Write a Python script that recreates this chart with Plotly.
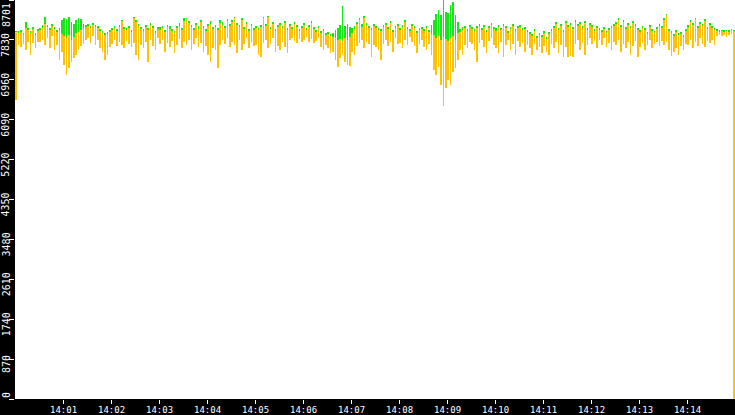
import pandas as pd
import plotly.graph_objects as go

# one bar every 3 s from 14:00 to 14:15
bar_times = pd.date_range("2024-05-20 14:00:01.5", periods=300, freq="3s")

yellow_high = [
    8000, 7980, 8000, 7960, 8090, 8040, 7980, 8070, 7940, 8020,
    8040, 8090, 8180, 8110, 8040, 8130, 8070, 8000, 8040, 7960,
    7910, 7870, 7940, 7830, 7890, 7980, 8000, 8040, 8090, 8110,
    8130, 8090, 8150, 8110, 8090, 8020, 7980, 7940, 7960, 8000,
    8040, 8090, 8020, 8110, 8240, 8070, 8040, 8090, 8000, 8310,
    8220, 8130, 8070, 8020, 8110, 8040, 8150, 8090, 7980, 8070,
    8040, 8090, 8000, 8110, 8070, 8020, 7980, 8090, 8130, 8040,
    8240, 8280, 8200, 8110, 8040, 8150, 8070, 8220, 8090, 8020,
    8130, 8180, 8070, 8110, 8040, 8200, 8150, 8090, 8240, 8130,
    8220, 8310, 8150, 8110, 8260, 8070, 8180, 8020, 8130, 8040,
    8090, 8040, 8110, 8310, 8130, 8330, 8070, 8180, 8020, 8110,
    8150, 8090, 8200, 8040, 8130, 8070, 8180, 8110, 8020, 8090,
    8150, 8040, 8110, 8200, 8070, 8000, 8090, 7980, 8020, 7940,
    7960, 7910, 7890, 7870, 7830, 7850, 7800, 7870, 7830, 7890,
    7980, 8070, 8180, 8260, 8110, 8310, 8150, 8090, 8040, 8130,
    8090, 8040, 8020, 8110, 8150, 8070, 8200, 8000, 8090, 8130,
    8040, 8110, 8220, 8070, 8020, 8130, 8090, 7980, 8040, 8070,
    8020, 8090, 8000, 7960, 7940, 7870, 7910, 7830, 7890, 7850,
    7800, 7870, 7910, 7830, 7980, 8000, 8040, 8090, 8020, 8110,
    8070, 8020, 8090, 8130, 8040, 8110, 8000, 8090, 8150, 8070,
    8020, 8110, 8040, 8130, 8090, 7980, 8070, 8130, 8020, 8090,
    8110, 8040, 8070, 8000, 7960, 7910, 8020, 7870, 7940, 7890,
    7980, 7850, 7960, 8020, 8090, 8180, 8040, 8130, 8000, 8200,
    8110, 8150, 8070, 8220, 8130, 8180, 8090, 8200, 8040, 8150,
    8110, 8020, 8090, 8040, 8000, 8070, 7980, 8040, 8090, 8130,
    8180, 8260, 8110, 8220, 8070, 8150, 8090, 8200, 8130, 8040,
    8000, 8090, 8040, 7960, 8110, 8020, 7980, 8070, 8130, 8090,
    8260, 8370, 8020, 7980, 7910, 8000, 7940, 7960, 7890, 8020,
    8110, 8220, 8150, 8280, 8090, 8180, 8130, 8240, 8070, 8150,
    8090, 8040, 8020, 8000, 8020, 8000, 8020, 8000, 8040, 8020,
]

yellow_low = [
    6520, 7720, 7670, 7740, 7610, 7780, 7500, 7760, 7650, 7780,
    7780, 7830, 7720, 7870, 7650, 7910, 7610, 7720, 7390, 7570,
    7280, 7060, 7220, 7350, 7430, 7500, 7610, 7700, 7740, 7830,
    7870, 7760, 7910, 7720, 7830, 7650, 7570, 7390, 7500, 7670,
    7740, 7830, 7700, 7780, 7720, 7650, 7800, 7740, 7670, 7760,
    7500, 7390, 7720, 7650, 7780, 7350, 7830, 7700, 7610, 7870,
    7740, 7830, 7570, 7760, 7670, 7800, 7540, 7720, 7850, 7650,
    7780, 7720, 7830, 7610, 7740, 7870, 7670, 7760, 7570, 7700,
    7500, 7350, 7650, 7610, 7220, 7720, 7830, 7740, 7870, 7670,
    7780, 7720, 7540, 7830, 7610, 7740, 7870, 7650, 7780, 7700,
    7720, 7500, 7460, 7760, 7830, 7650, 7740, 7870, 7570, 7700,
    7610, 7780, 7670, 7540, 7830, 7870, 7800, 7760, 7850, 7780,
    7830, 7890, 7780, 7850, 7760, 7800, 7870, 7670, 7610, 7720,
    7650, 7540, 7570, 7390, 7240, 7430, 7500, 7350, 7280, 7260,
    7570, 7500, 7700, 7760, 7830, 7650, 7780, 7740, 7460, 7720,
    7670, 7610, 7390, 7740, 7830, 7700, 7780, 7570, 7870, 7740,
    7760, 7650, 7830, 7720, 7890, 7780, 7700, 7540, 7740, 7830,
    7670, 7610, 7740, 7500, 7170, 7060, 7240, 6850, 6390, 6780,
    6950, 6850, 7130, 7220, 7390, 7610, 7500, 7720, 7650, 7780,
    7740, 7610, 7350, 7760, 7830, 7670, 7540, 7800, 7870, 7720,
    7650, 7540, 7780, 7460, 7720, 7830, 7610, 7740, 7500, 7800,
    7670, 7760, 7570, 7720, 7650, 7500, 7740, 7610, 7670, 7540,
    7700, 7570, 7500, 7740, 7650, 7780, 7540, 7720, 7460, 7670,
    7460, 7480, 7460, 7740, 7830, 7610, 7760, 7500, 7720, 7870,
    7740, 7800, 7650, 7830, 7720, 7870, 7670, 7760, 7610, 7780,
    7720, 7830, 7570, 7740, 7650, 7780, 7500, 7700, 7800, 7460,
    7670, 7760, 7610, 7720, 7830, 7650, 7740, 7780, 7700, 7800,
    7720, 7780, 7610, 7480, 7570, 7650, 7500, 7700, 7610, 7740,
    7720, 7830, 7650, 7780, 7700, 7870, 7740, 7670, 7800, 7760,
    7830, 7720, 7910, 7940, 7910, 7940, 7890, 7940, 7960, 0,
]

green_high = [
    8020, 8020, 8040, 7980, 8220, 8090, 8020, 8110, 7980, 8070,
    8090, 8150, 8330, 8150, 8090, 8180, 8110, 8040, 8090, 8260,
    8310, 8280, 8330, 8220, 8180, 8260, 8310, 8280, 8180, 8150,
    8180, 8130, 8200, 8150, 8130, 8070, 8020, 7980, 8000, 8040,
    8090, 8130, 8070, 8150, 8260, 8110, 8090, 8130, 8040, 8330,
    8260, 8180, 8110, 8070, 8150, 8090, 8200, 8130, 8020, 8110,
    8110, 8130, 8040, 8150, 8130, 8070, 8020, 8130, 8200, 8090,
    8310, 8310, 8240, 8150, 8090, 8200, 8130, 8260, 8130, 8070,
    8180, 8240, 8110, 8150, 8090, 8260, 8220, 8130, 8280, 8180,
    8260, 8330, 8200, 8150, 8310, 8110, 8220, 8070, 8180, 8090,
    8130, 8090, 8150, 8330, 8180, 8350, 8110, 8220, 8070, 8150,
    8200, 8130, 8240, 8090, 8180, 8110, 8220, 8150, 8070, 8130,
    8200, 8090, 8150, 8240, 8110, 8040, 8130, 8020, 8070, 7980,
    8000, 7960, 7980, 8040, 8090, 8150, 8570, 8130, 8180, 8110,
    8090, 8130, 8220, 8310, 8180, 8350, 8200, 8130, 8090, 8180,
    8130, 8090, 8070, 8150, 8200, 8110, 8240, 8040, 8130, 8180,
    8090, 8150, 8260, 8110, 8070, 8180, 8130, 8020, 8090, 8110,
    8070, 8130, 8040, 8150, 8260, 8390, 8480, 8370, 8700, 8440,
    8410, 8590, 8650, 8370, 8220, 8070, 8110, 8130, 8070, 8150,
    8110, 8070, 8130, 8180, 8090, 8150, 8040, 8130, 8200, 8110,
    8090, 8150, 8090, 8180, 8130, 8020, 8110, 8180, 8070, 8130,
    8150, 8090, 8110, 8040, 8000, 7960, 8070, 7910, 7980, 7940,
    8020, 7890, 8000, 8070, 8130, 8220, 8090, 8180, 8040, 8240,
    8150, 8200, 8110, 8260, 8180, 8220, 8130, 8240, 8090, 8200,
    8150, 8070, 8130, 8090, 8040, 8110, 8020, 8090, 8130, 8180,
    8220, 8310, 8150, 8260, 8110, 8200, 8130, 8240, 8180, 8090,
    8040, 8130, 8090, 8000, 8150, 8070, 8020, 8110, 8180, 8130,
    8310, 8390, 8070, 8020, 7960, 8040, 7980, 8000, 7940, 8070,
    8150, 8260, 8200, 8310, 8130, 8220, 8180, 8280, 8110, 8200,
    8130, 8090, 8070, 8040, 8040, 8040, 8040, 8040, 8070, 8040,
]

y_ticks = [0, 870, 1740, 2610, 3480, 4350, 5220, 6090, 6960, 7830, 8701]
x_tick_labels = ["14:01", "14:02", "14:03", "14:04", "14:05", "14:06", "14:07",
                 "14:08", "14:09", "14:10", "14:11", "14:12", "14:13", "14:14"]

day = "2024-05-20"
yellow = "rgba(255,194,0,0.999)"
green = "rgba(20,232,20,0.999)"
bar_ms = 2000  # between one and two pixels wide

fig = go.Figure()
fig.add_trace(go.Bar(
    x=bar_times,
    y=[g - lo for g, lo in zip(green_high, yellow_low)],
    base=yellow_low,
    width=bar_ms,
    marker=dict(color=green, line=dict(width=0)),
    hoverinfo="skip",
))
fig.add_trace(go.Bar(
    x=bar_times,
    y=[h - lo for h, lo in zip(yellow_high, yellow_low)],
    base=yellow_low,
    width=bar_ms,
    marker=dict(color=yellow, line=dict(width=0)),
    hoverinfo="skip",
))

# rotated y labels sit just below their tick, edge ones are kept inside
for v in y_ticks:
    if v == y_ticks[0]:
        anchor, shift = "bottom", 0
    elif v == y_ticks[-1]:
        anchor, shift = "top", -2
    else:
        anchor, shift = "middle", -5
    fig.add_annotation(
        x=0, xref="paper", xanchor="center", xshift=-9,
        y=v, yref="y", yanchor=anchor, yshift=shift,
        text=str(v), textangle=-90, showarrow=False, borderpad=0,
        font=dict(family="DejaVu Sans Mono", size=10, color="white"),
    )

# time labels in the black strip under the plot
for t in x_tick_labels:
    fig.add_annotation(
        x=f"{day} {t}:00", xref="x", xanchor="center",
        y=0, yref="paper", yanchor="top", yshift=-5,
        text=t, showarrow=False, borderpad=0,
        font=dict(family="DejaVu Sans Mono", size=9, color="white"),
    )

fig.update_layout(
    width=735, height=415,
    margin=dict(l=15, r=0, t=0, b=16),
    paper_bgcolor="black",
    plot_bgcolor="white",
    barmode="overlay",
    bargap=0, bargroupgap=0,
    showlegend=False,
    xaxis=dict(
        type="date",
        range=[f"{day} 14:00:00", f"{day} 14:15:00"],
        tickvals=[f"{day} {t}:00" for t in x_tick_labels],
        showticklabels=False,
        ticks="outside", ticklen=4, tickwidth=1, tickcolor="white",
        showgrid=False, zeroline=False, showline=False,
        fixedrange=True,
    ),
    yaxis=dict(
        range=[0, 8701],
        tickvals=y_ticks,
        showticklabels=False,
        ticks="outside", ticklen=5, tickwidth=1, tickcolor="white",
        showgrid=False, zeroline=False, showline=False,
        fixedrange=True,
    ),
)

# the page's default body margin would push the chart off the window
fig.write_html(
    "out.html",
    config={"displayModeBar": False},
    post_script="document.body.style.margin = '0px';",
)
